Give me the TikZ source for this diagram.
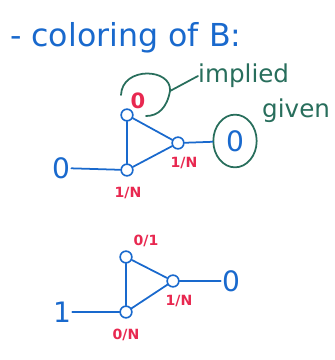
\documentclass[tikz,border=0pt]{standalone}
\usepackage{fontspec}
\setmainfont{DejaVu Sans}
\usepackage{tikz}
\usetikzlibrary{positioning,calc,shapes.geometric}
\definecolor{pen}{RGB}{25,105,205}
\definecolor{mark}{RGB}{232,40,80}
\definecolor{moss}{RGB}{40,110,92}

\begin{document}
\begin{tikzpicture}[x=0.03cm,y=-0.03cm,
  vert/.style={circle,draw=pen,line width=1.4pt,inner sep=0pt,minimum width=9pt,minimum height=10pt},
  val/.style={text=pen,font=\fontsize{24}{26}\selectfont,inner sep=1pt},
  tag/.style={text=mark,font=\bfseries\fontsize{12}{14}\selectfont,inner sep=0pt},
  note/.style={text=moss,font=\fontsize{21}{23}\selectfont,inner sep=0pt},
  wire/.style={pen,line width=1.5pt,line cap=round},
  ring/.style={moss,line width=1.5pt,line cap=round}
]
\useasboundingbox (0,0) rectangle (335,360);
% title
\node[anchor=west,text=pen,font=\fontsize{27}{30}\selectfont] (title) at (6,38) {- coloring of B:};
% first graph
\node[vert] (a1) at (127,115) {};
\node[vert] (b1) at (178,143) {};
\node[vert] (c1) at (127,170) {};
\node[val] (in1) at (61,168) {0};
\node[val,ellipse,draw=moss,line width=1.5pt,minimum width=37pt,minimum height=45pt,inner sep=0pt] (out1) at (235,141) {0};
\node[tag,font=\bfseries\fontsize{18}{20}\selectfont] (ta1) at (138,101) {0};
\node[tag] (tb1) at (184,163) {1/N};
\node[tag] (tc1) at (128,193) {1/N};
\node[note,anchor=west] (imp) at (198,76) {implied};
\node[note,anchor=west] (giv) at (262,111) {given};
\coordinate (lp) at (170,91);
\draw[wire] (a1) -- (b1);
\draw[wire] (a1) -- (c1);
\draw[wire] (c1) -- (b1);
\draw[wire] (in1) -- (c1);
\draw[wire] (b1) -- (out1);
\draw[ring] (121,95) .. controls (122,66) and (172,68) .. (lp) .. controls (167,108) and (158,116) .. (146,116);
\draw[ring] (lp) -- (imp.west);
% second graph
\node[vert] (a2) at (126,257) {};
\node[vert] (b2) at (173,281) {};
\node[vert] (c2) at (126,312) {};
\node[val] (in2) at (62,312) {1};
\node[val] (out2) at (231,281) {0};
\node[tag] (ta2) at (146,241) {0/1};
\node[tag] (tb2) at (179,301) {1/N};
\node[tag] (tc2) at (126,335) {0/N};
\draw[wire] (a2) -- (b2);
\draw[wire] (a2) -- (c2);
\draw[wire] (c2) -- (b2);
\draw[wire] (in2) -- (c2);
\draw[wire] (b2) -- (out2);
\end{tikzpicture}
\end{document}
